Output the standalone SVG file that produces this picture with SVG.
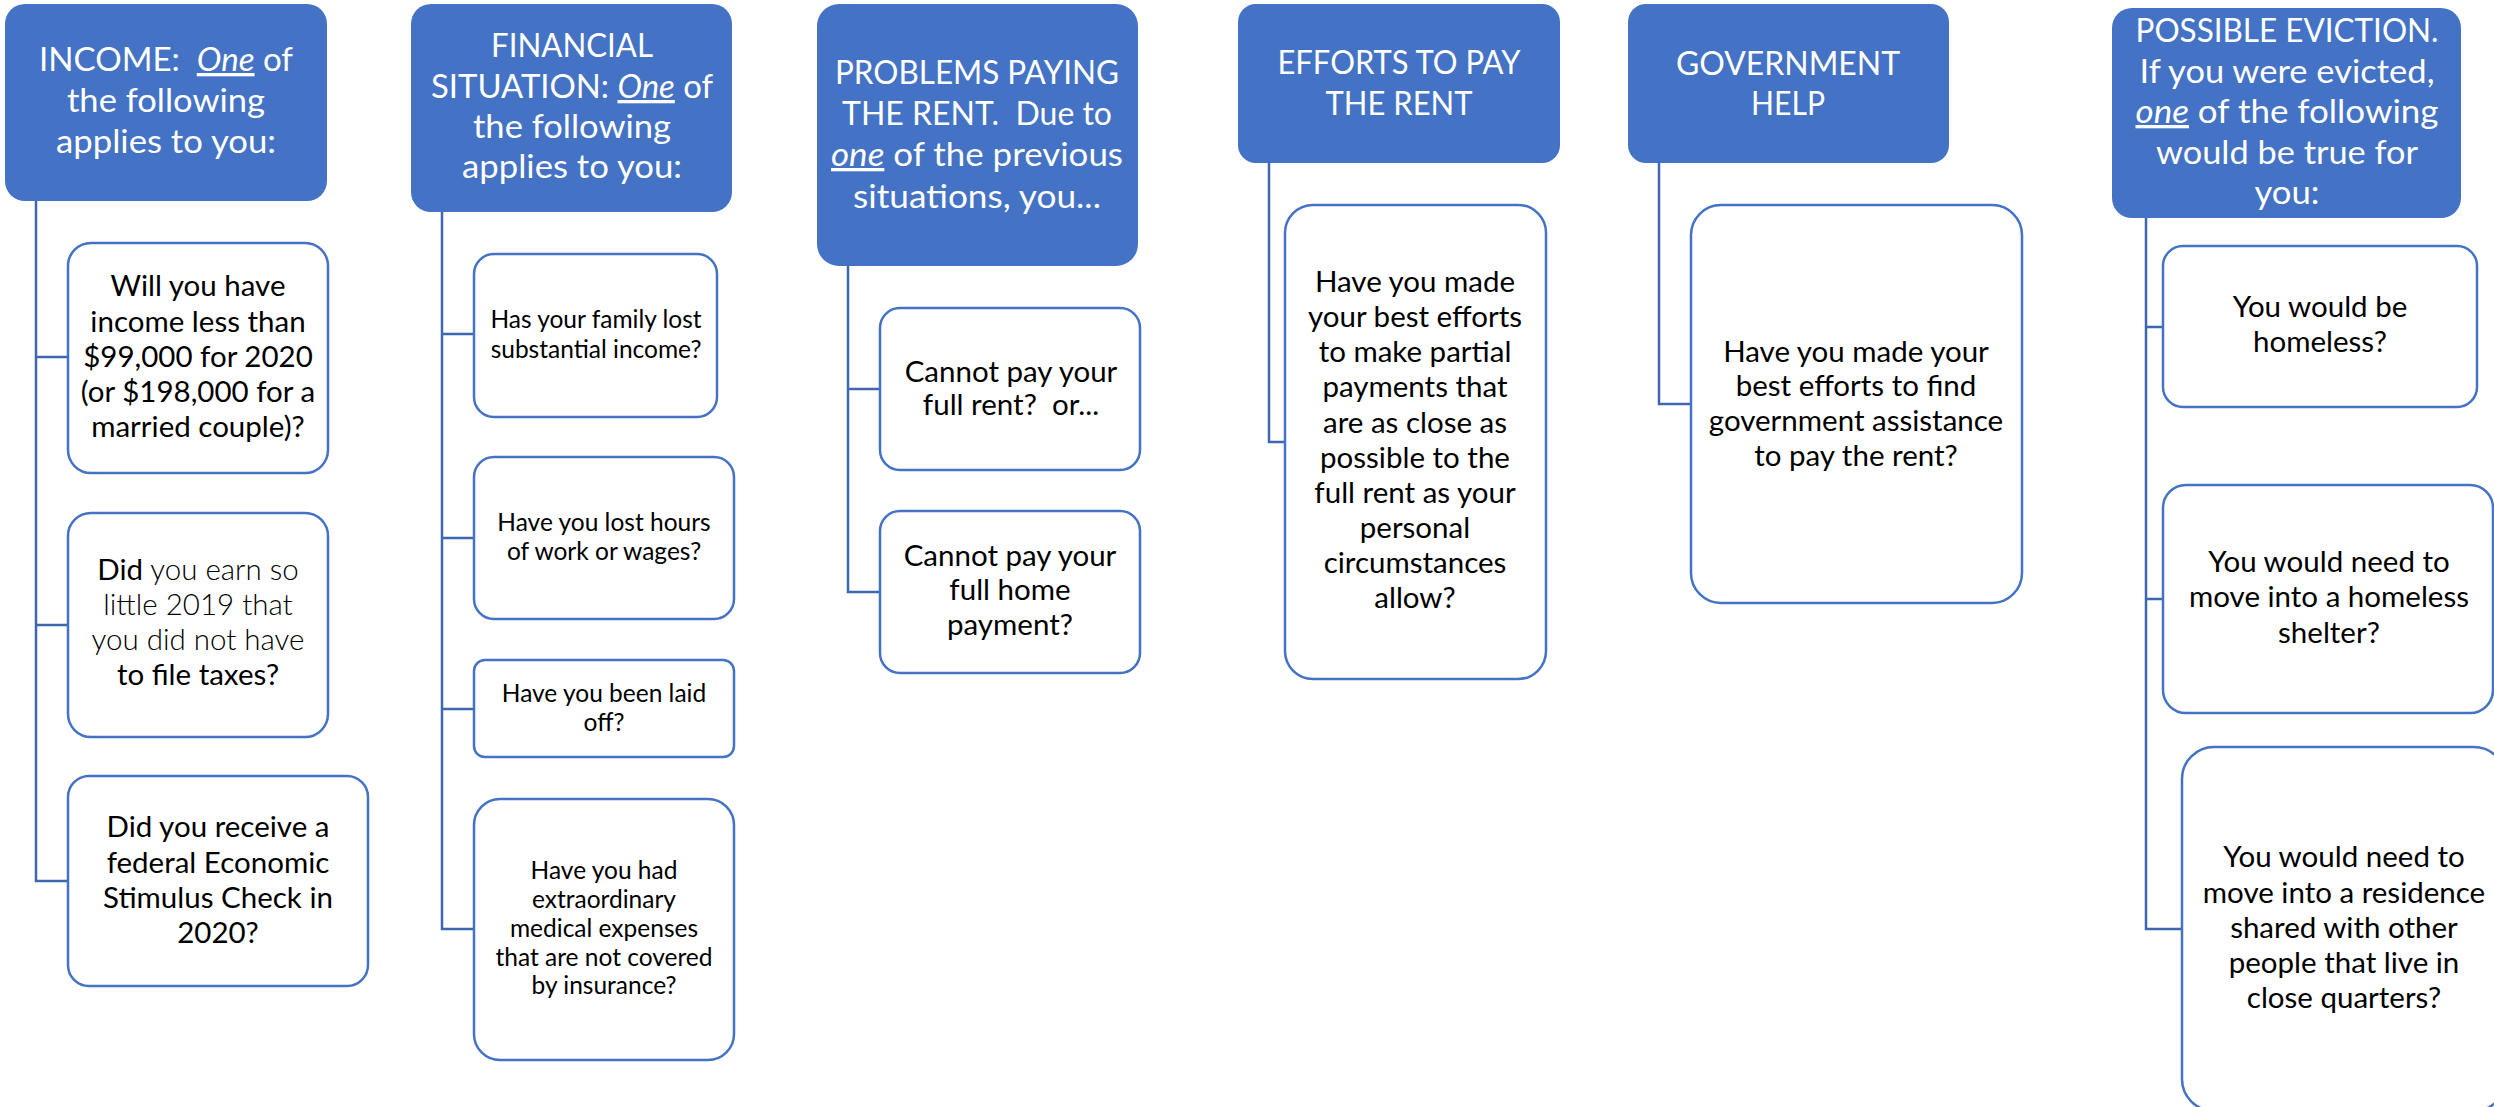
<svg xmlns="http://www.w3.org/2000/svg" width="2494" height="1107" viewBox="0 0 2494 1107">
<style>
.hdr rect{fill:#4472C4;}
.hdr text{fill:#FFFFFF;font-family:Lato,"Liberation Sans",sans-serif;font-size:33px;text-anchor:middle;}
.ch rect{fill:#FFFFFF;stroke:#4472C4;stroke-width:2.5;}
.ch text{fill:#000000;font-family:Lato,"Liberation Sans",sans-serif;font-size:29.5px;text-anchor:middle;}
.sm text{font-size:24.5px;}
.conn path{fill:none;stroke:#3F66B0;stroke-width:2.5;}
.u{font-style:italic;text-decoration:underline;}
.lt{font-weight:300;}
</style>
<rect x="0" y="0" width="2494" height="1107" fill="#FFFFFF"/>
<g id="connectors" class="conn">
<path d="M36 201 V881 H68 M36 357 H68 M36 625 H68"/>
<path d="M442 212 V929 H474 M442 334 H474 M442 538 H474 M442 709 H474"/>
<path d="M848 266 V592 H880 M848 389 H880"/>
<path d="M1269 163 V442 H1285"/>
<path d="M1659 163 V404 H1691"/>
<path d="M2146 218 V929 H2182 M2146 327 H2163 M2146 599 H2163"/>
</g>
<g id="income" class="hdr">
<rect x="5" y="4" width="322" height="197" rx="20"/>
<text x="166" y="71" textLength="254" lengthAdjust="spacingAndGlyphs">INCOME:&#160; <tspan class="u">One</tspan> of</text>
<text x="166" y="112" textLength="198" lengthAdjust="spacingAndGlyphs">the following</text>
<text x="166" y="153" textLength="220" lengthAdjust="spacingAndGlyphs">applies to you:</text>
</g>
<g id="income-1" class="ch">
<rect x="68" y="243" width="260" height="230" rx="23"/>
<text x="198" y="296">Will you have</text>
<text x="198" y="332">income less than</text>
<text x="198" y="367">$99,000 for 2020</text>
<text x="198" y="402">(or $198,000 for a</text>
<text x="198" y="437">married couple)?</text>
</g>
<g id="income-2" class="ch">
<rect x="68" y="513" width="260" height="224" rx="23"/>
<text x="198" y="580">Did<tspan class="lt"> you earn so</tspan></text>
<text x="198" y="615" class="lt">little 2019 that</text>
<text x="198" y="650" class="lt">you did not have</text>
<text x="198" y="685">to file taxes?</text>
</g>
<g id="income-3" class="ch">
<rect x="68" y="776" width="300" height="210" rx="21"/>
<text x="218" y="837">Did you receive a</text>
<text x="218" y="873">federal Economic</text>
<text x="218" y="908">Stimulus Check in</text>
<text x="218" y="943">2020?</text>
</g>
<g id="financial" class="hdr">
<rect x="411" y="4" width="321" height="208" rx="20"/>
<text x="572" y="57" textLength="162" lengthAdjust="spacingAndGlyphs">FINANCIAL</text>
<text x="572" y="98" textLength="282" lengthAdjust="spacingAndGlyphs">SITUATION: <tspan class="u">One</tspan> of</text>
<text x="572" y="138" textLength="198" lengthAdjust="spacingAndGlyphs">the following</text>
<text x="572" y="178" textLength="220" lengthAdjust="spacingAndGlyphs">applies to you:</text>
</g>
<g id="financial-1" class="ch sm">
<rect x="474" y="254" width="243" height="163" rx="20"/>
<text x="596" y="328">Has your family lost</text>
<text x="596" y="358">substantial income?</text>
</g>
<g id="financial-2" class="ch sm">
<rect x="474" y="457" width="260" height="162" rx="20"/>
<text x="604" y="531">Have you lost hours</text>
<text x="604" y="560">of work or wages?</text>
</g>
<g id="financial-3" class="ch sm">
<rect x="474" y="660" width="260" height="97" rx="11"/>
<text x="604" y="702">Have you been laid</text>
<text x="604" y="731">off?</text>
</g>
<g id="financial-4" class="ch sm">
<rect x="474" y="799" width="260" height="261" rx="26"/>
<text x="604" y="879">Have you had</text>
<text x="604" y="908">extraordinary</text>
<text x="604" y="937">medical expenses</text>
<text x="604" y="966">that are not covered</text>
<text x="604" y="994">by insurance?</text>
</g>
<g id="problems" class="hdr">
<rect x="817" y="4" width="321" height="262" rx="22"/>
<text x="977" y="84" textLength="284" lengthAdjust="spacingAndGlyphs">PROBLEMS PAYING</text>
<text x="977" y="125" textLength="270" lengthAdjust="spacingAndGlyphs">THE RENT.&#160; Due to</text>
<text x="977" y="166" textLength="292" lengthAdjust="spacingAndGlyphs"><tspan class="u">one</tspan> of the previous</text>
<text x="977" y="208" textLength="248" lengthAdjust="spacingAndGlyphs">situations, you...</text>
</g>
<g id="problems-1" class="ch">
<rect x="880" y="308" width="260" height="162" rx="20"/>
<text x="1011" y="382">Cannot pay your</text>
<text x="1011" y="415">full rent?&#160; or...</text>
</g>
<g id="problems-2" class="ch">
<rect x="880" y="511" width="260" height="162" rx="20"/>
<text x="1010" y="566">Cannot pay your</text>
<text x="1010" y="600">full home</text>
<text x="1010" y="635">payment?</text>
</g>
<g id="efforts" class="hdr">
<rect x="1238" y="4" width="322" height="159" rx="18"/>
<text x="1399" y="74" textLength="243" lengthAdjust="spacingAndGlyphs">EFFORTS TO PAY</text>
<text x="1399" y="115" textLength="147" lengthAdjust="spacingAndGlyphs">THE RENT</text>
</g>
<g id="efforts-1" class="ch">
<rect x="1285" y="205" width="261" height="474" rx="28"/>
<text x="1415" y="292">Have you made</text>
<text x="1415" y="327">your best efforts</text>
<text x="1415" y="362">to make partial</text>
<text x="1415" y="397">payments that</text>
<text x="1415" y="433">are as close as</text>
<text x="1415" y="468">possible to the</text>
<text x="1415" y="503">full rent as your</text>
<text x="1415" y="538">personal</text>
<text x="1415" y="573">circumstances</text>
<text x="1415" y="608">allow?</text>
</g>
<g id="government" class="hdr">
<rect x="1628" y="4" width="321" height="159" rx="18"/>
<text x="1788" y="75" textLength="224" lengthAdjust="spacingAndGlyphs">GOVERNMENT</text>
<text x="1788" y="115" textLength="74" lengthAdjust="spacingAndGlyphs">HELP</text>
</g>
<g id="government-1" class="ch">
<rect x="1691" y="205" width="331" height="398" rx="30"/>
<text x="1856" y="362">Have you made your</text>
<text x="1856" y="396">best efforts to find</text>
<text x="1856" y="431">government assistance</text>
<text x="1856" y="466">to pay the rent?</text>
</g>
<g id="eviction" class="hdr">
<rect x="2112" y="8" width="349" height="210" rx="20"/>
<text x="2287" y="42" textLength="303" lengthAdjust="spacingAndGlyphs">POSSIBLE EVICTION.</text>
<text x="2287" y="83" textLength="295" lengthAdjust="spacingAndGlyphs">If you were evicted,</text>
<text x="2287" y="123" textLength="303" lengthAdjust="spacingAndGlyphs"><tspan class="u">one</tspan> of the following</text>
<text x="2287" y="164" textLength="262" lengthAdjust="spacingAndGlyphs">would be true for</text>
<text x="2287" y="204" textLength="65" lengthAdjust="spacingAndGlyphs">you:</text>
</g>
<g id="eviction-1" class="ch">
<rect x="2163" y="246" width="314" height="161" rx="20"/>
<text x="2320" y="317">You would be</text>
<text x="2320" y="352">homeless?</text>
</g>
<g id="eviction-2" class="ch">
<rect x="2163" y="485" width="330" height="228" rx="23"/>
<text x="2329" y="572">You would need to</text>
<text x="2329" y="607">move into a homeless</text>
<text x="2329" y="643">shelter?</text>
</g>
<g id="eviction-3" class="ch">
<rect x="2182" y="747" width="324" height="364" rx="32"/>
<text x="2344" y="867">You would need to</text>
<text x="2344" y="903">move into a residence</text>
<text x="2344" y="938">shared with other</text>
<text x="2344" y="973">people that live in</text>
<text x="2344" y="1008">close quarters?</text>
</g>
</svg>
